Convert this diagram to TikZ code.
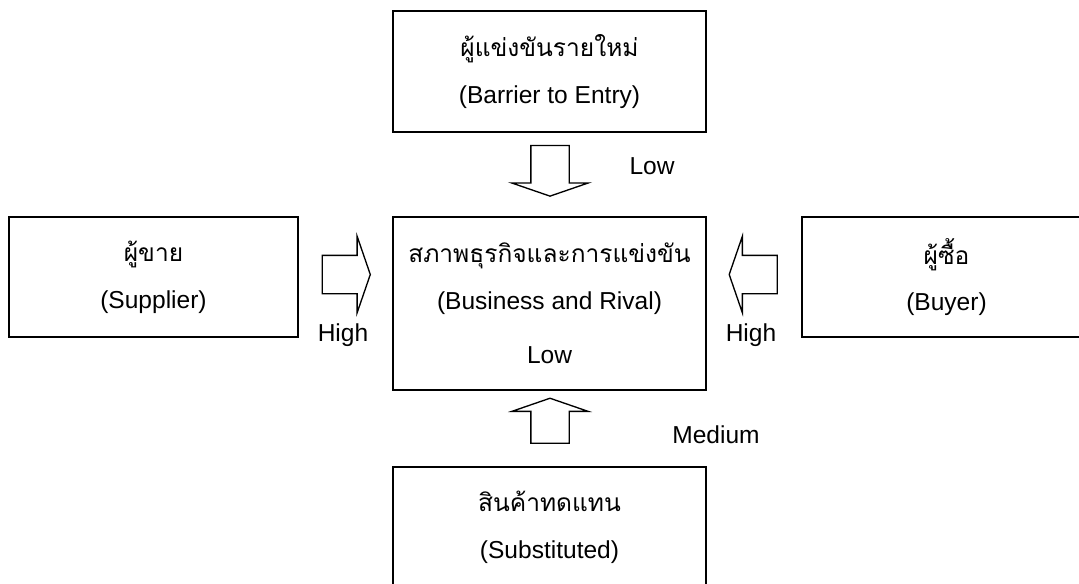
\documentclass[tikz,border=0pt]{standalone}
\usepackage{fontspec}
\setmainfont{Liberation Sans}
\newfontfamily\thaifont[Script=Thai]{Loma}
\usetikzlibrary{shapes.arrows}

\tikzset{
  force/.style={draw, line width=1.4pt, align=center,
    font=\fontsize{18.4}{35}\selectfont},
  push/.style={single arrow, draw, line width=1pt, inner sep=13.875pt,
    minimum width=0pt, single arrow head extend=14.25pt,
    single arrow tip angle=142},
  level/.style={font=\fontsize{18.4}{22}\selectfont}
}

\begin{document}
\begin{tikzpicture}[x=0.75pt,y=-0.75pt]
  \clip (0,0) rectangle (1079,583);
  \fill[white] (0,0) rectangle (1079,583);

  % the five forces
  \node[force, minimum width=234.75pt, minimum height=90.75pt] (entry) at (549.5,71.5)
    {{\thaifont ผู้แข่งขันรายใหม่}\\(Barrier to Entry)};
  \node[force, minimum width=234.75pt, minimum height=129.75pt] (rival) at (549.5,303.5)
    {{\thaifont สภาพธุรกิจและการแข่งขัน}\\(Business and Rival)\\[6pt]Low};
  \node[force, minimum width=216.75pt, minimum height=90pt] (supplier) at (153.5,277)
    {{\thaifont ผู้ขาย}\\(Supplier)};
  \node[force, minimum width=216.75pt, minimum height=90pt] (buyer) at (946.5,277)
    {{\thaifont ผู้ซื้อ}\\(Buyer)};
  \node[force, minimum width=234.75pt, minimum height=90.75pt] (subst) at (549.5,527.5)
    {{\thaifont สินค้าทดแทน}\\(Substituted)};

  % block arrows into the middle box
  \node[push, minimum height=38pt, shape border rotate=270] (fromentry) at (550,167.5) {};
  \node[push, minimum height=36pt, shape border rotate=0] (fromsupplier) at (343,274.5) {};
  \node[push, minimum height=36pt, shape border rotate=180] (frombuyer) at (756.5,274.5) {};
  \node[push, minimum height=32.5pt, shape border rotate=90] (fromsubst) at (550,424) {};

  % strength of each force
  \node[level] (lowentry) at (652,166) {Low};
  \node[level] (highsupplier) at (343,335) {High};
  \node[level] (highbuyer) at (751,335) {High};
  \node[level] (medsubst) at (716,435) {Medium};
\end{tikzpicture}
\end{document}
